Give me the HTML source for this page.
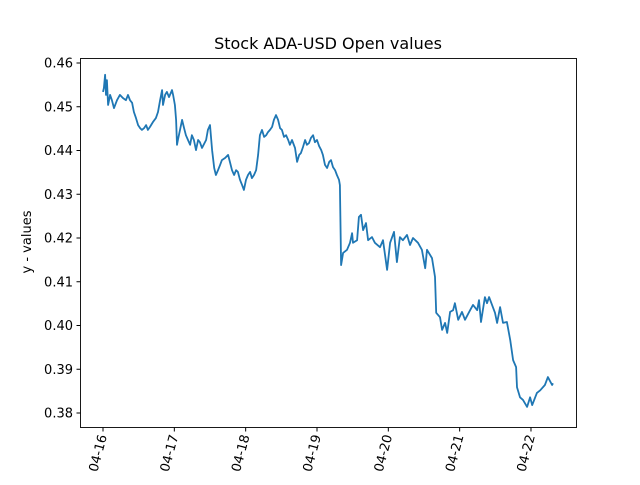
<!DOCTYPE html>
<html><head><meta charset="utf-8"><style>
body{margin:0;background:#fff}
svg text{font-family:"DejaVu Sans","Liberation Sans",sans-serif;fill:#000}
</style></head><body>
<svg id="chart" width="640" height="480" xmlns="http://www.w3.org/2000/svg">
<rect width="640" height="480" fill="#fff"/>
<text x="328" y="49" font-size="16" text-anchor="middle">Stock ADA-USD Open values</text>
<text transform="translate(31,242) rotate(-90)" font-size="13" text-anchor="middle">y - values</text>
<g id="yticks"></g><g id="xticks"></g>
<path id="series" fill="none" stroke="#1f77b4" stroke-width="1.8" stroke-linejoin="round"/>
<rect x="80.5" y="58.5" width="496" height="369" fill="none" stroke="#000" stroke-width="0.9"/>
</svg>
<script>
const hours=[0,0.3,0.7,1.0,1.3,1.7,2.4,3.0,3.7,4.7,5.7,6.7,7.7,8.4,9.1,9.8,10.4,11.1,11.8,12.5,13.1,13.8,14.5,15.1,15.8,16.8,17.8,18.5,19.2,19.9,20.2,20.9,21.5,22.2,23.2,23.6,24.2,24.6,24.9,25.2,25.9,26.6,27.3,27.9,28.6,29.3,29.9,30.6,31.3,32.0,32.6,33.3,34.7,35.3,36.0,36.7,37.4,38.0,38.7,39.4,40.0,41.1,42.1,42.7,43.4,44.1,44.8,45.4,46.1,46.8,47.4,48.1,48.8,49.5,50.1,50.8,51.5,52.2,52.8,53.5,54.2,54.9,55.5,56.2,56.9,57.5,58.2,58.9,59.6,60.2,60.9,61.6,62.3,62.9,63.6,64.6,65.3,66.0,66.6,67.3,68.0,68.6,69.3,70.0,70.7,71.3,72.0,72.7,73.4,74.0,74.7,75.4,76.1,76.7,77.4,78.1,78.7,79.4,79.7,80.1,80.8,82.1,83.1,83.8,84.1,85.5,86.1,86.8,87.5,88.5,89.2,90.5,91.5,93.2,94.2,95.6,96.6,97.9,98.9,99.9,100.9,102.3,103.3,104.3,106.0,107.3,108.4,109.0,110.7,111.7,112.1,113.4,114.1,115.1,115.8,116.8,117.8,118.4,119.5,120.8,121.8,123.5,124.5,125.9,126.5,127.2,128.5,129.2,129.9,131.9,132.6,133.6,134.6,135.9,137.0,138.0,139.0,139.3,140.3,141.3,142.7,143.7,144.4,146.0,147.1,148.7,149.7,151.1,151.4];
const values=[0.4534,0.4543,0.4573,0.4527,0.4561,0.4504,0.4527,0.4515,0.4497,0.4515,0.4527,0.4520,0.4515,0.4527,0.4515,0.4509,0.4488,0.4474,0.4458,0.4451,0.4447,0.4451,0.4458,0.4447,0.4454,0.4465,0.4474,0.4488,0.4515,0.4538,0.4504,0.4527,0.4534,0.4522,0.4538,0.4527,0.4504,0.4470,0.4413,0.4424,0.4447,0.4470,0.4451,0.4435,0.4424,0.4413,0.4435,0.4424,0.4401,0.4424,0.4419,0.4406,0.4424,0.4447,0.4458,0.4401,0.4360,0.4344,0.4355,0.4367,0.4378,0.4383,0.4390,0.4374,0.4355,0.4344,0.4355,0.4351,0.4333,0.4321,0.4310,0.4333,0.4344,0.4351,0.4337,0.4344,0.4355,0.4390,0.4435,0.4447,0.4431,0.4435,0.4442,0.4447,0.4454,0.4470,0.4481,0.4470,0.4451,0.4447,0.4431,0.4435,0.4424,0.4413,0.4424,0.4406,0.4374,0.4390,0.4394,0.4408,0.4424,0.4413,0.4417,0.4429,0.4435,0.4419,0.4424,0.4410,0.4401,0.4390,0.4367,0.4360,0.4374,0.4378,0.4362,0.4355,0.4344,0.4333,0.4321,0.4138,0.4166,0.4173,0.4189,0.4211,0.4189,0.4195,0.4248,0.4253,0.4218,0.4234,0.4195,0.4202,0.4189,0.4179,0.4195,0.4127,0.4189,0.4214,0.4145,0.4202,0.4195,0.4207,0.4184,0.4200,0.4189,0.4173,0.4131,0.4173,0.4154,0.4111,0.4029,0.4019,0.3990,0.4006,0.3983,0.4031,0.4035,0.4051,0.4013,0.4031,0.4013,0.4035,0.4047,0.4035,0.4058,0.4008,0.4065,0.4051,0.4065,0.4029,0.4006,0.4042,0.4006,0.4008,0.3967,0.3921,0.3905,0.3859,0.3836,0.3830,0.3814,0.3836,0.3818,0.3846,0.3852,0.3864,0.3882,0.3864,0.3868];
const yTicks=[0.38,0.39,0.40,0.41,0.42,0.43,0.44,0.45,0.46];
const xTickLabels=["04-16","04-17","04-18","04-19","04-20","04-21","04-22"];
const NS="http://www.w3.org/2000/svg";
function xs(h){return 103+h/24*71.33;}
function ys(v){return 63+(0.46-v)*4375;}
let d="";
for(let i=0;i<hours.length;i++){d+=(i?"L":"M")+xs(hours[i]).toFixed(1)+","+ys(values[i]).toFixed(1);}
document.getElementById('series').setAttribute('d',d);
const yg=document.getElementById('yticks');
yTicks.forEach(v=>{
 const y=ys(v);
 const l=document.createElementNS(NS,'line');
 l.setAttribute('x1',76.5);l.setAttribute('x2',80.5);l.setAttribute('y1',y);l.setAttribute('y2',y);l.setAttribute('stroke','#000');
 
 
 yg.appendChild(l);
 const t=document.createElementNS(NS,'text');
 t.setAttribute('x',73);t.setAttribute('y',y+4.5);t.setAttribute('font-size','13');t.setAttribute('text-anchor','end');
 t.textContent=v.toFixed(2);
 
 
 yg.appendChild(t);
});
const xg=document.getElementById('xticks');
xTickLabels.forEach((s,i)=>{
 const x=xs(i*24);
 const l=document.createElementNS(NS,'line');
 l.setAttribute('x1',x);l.setAttribute('x2',x);l.setAttribute('y1',427.5);l.setAttribute('y2',431.5);l.setAttribute('stroke','#000');
 
 
 xg.appendChild(l);
 const t=document.createElementNS(NS,'text');
 t.setAttribute('font-size','13');t.setAttribute('text-anchor','end');
 t.setAttribute('transform','translate('+(x+4)+',436) rotate(-75)');
 t.textContent=s;
 
 
 xg.appendChild(t);
});
</script>
</body></html>
